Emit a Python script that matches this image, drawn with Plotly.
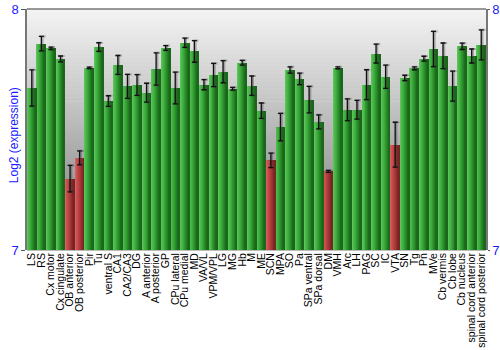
import plotly.graph_objects as go

# Brain regions and log2 expression (mean and error)
regions = [
    "LS", "RS", "Cx motor", "Cx cingulate", "OB anterior", "OB posterior", "Pir", "Tu",
    "ventral S", "CA1", "CA2/CA3", "DG", "A anterior", "A posterior", "GP", "CPu lateral",
    "CPu medial", "MD", "VA/VL", "VPM/VPL", "LG", "MG", "Hb", "M", "ME", "SCN", "MPA",
    "SO", "Pa", "SPa ventral", "SPa dorsal", "DM", "VMH", "Arc", "LH", "PAG", "SC", "IC",
    "VTA", "SN", "Tg", "Pn", "MVe", "Cb vermis", "Cb lobe", "Cb nucleus",
    "spinal cord anterior", "spinal cord posterior",
]
expression = [
    7.672, 7.856, 7.837, 7.793, 7.296, 7.382, 7.756, 7.842,
    7.618, 7.768, 7.679, 7.685, 7.653, 7.751, 7.838, 7.672,
    7.860, 7.824, 7.686, 7.726, 7.740, 7.669, 7.777, 7.682, 7.578, 7.372, 7.510,
    7.747, 7.710, 7.624, 7.532, 7.326, 7.756, 7.582, 7.582, 7.686, 7.815, 7.719,
    7.437, 7.714, 7.754, 7.794, 7.834, 7.806, 7.680, 7.845,
    7.805, 7.851,
]
error = [
    0.075, 0.030, 0.005, 0.012, 0.055, 0.029, 0.003, 0.018,
    0.022, 0.039, 0.050, 0.043, 0.039, 0.067, 0.010, 0.066,
    0.019, 0.045, 0.021, 0.048, 0.046, 0.006, 0.010, 0.040, 0.032, 0.030, 0.057,
    0.013, 0.024, 0.055, 0.029, 0.004, 0.004, 0.045, 0.039, 0.062, 0.039, 0.048,
    0.093, 0.011, 0.006, 0.010, 0.073, 0.053, 0.062, 0.013,
    0.029, 0.062,
]
low_regions = ["OB anterior", "OB posterior", "SCN", "DM", "VTA"]

y_range = [7, 8]
y_ticks = [7, 8]
y_title = "Log2 (expression)"

# Horizontal shading profile of a bar, left to right (cylinder look)
green_profile = ["#5cc25c", "#4cbb4c", "#43b443", "#3aa83a", "#319b31",
                 "#2a8e2a", "#237f23", "#1c701c", "#1a661a"]
red_profile = ["#d26262", "#cc5252", "#c64a4a", "#bc4242", "#b03c3c",
               "#a23535", "#922f2f", "#832828", "#772424"]

bar_w = 0.92
n_strips = len(green_profile)
strip_w = bar_w / n_strips
x_pos = list(range(len(regions)))

fig = go.Figure()
for k in range(n_strips):
    colors = [red_profile[k] if r in low_regions else green_profile[k] for r in regions]
    fig.add_trace(go.Bar(
        x=x_pos, y=[v - y_range[0] for v in expression], base=y_range[0],
        width=strip_w, offset=-bar_w / 2 + k * strip_w,
        marker=dict(color=colors, line=dict(width=0)),
        hoverinfo="skip", showlegend=False,
    ))

# soft shadow behind the error bars, then the error bars themselves
fig.add_trace(go.Scatter(
    x=[x + 0.12 for x in x_pos], y=expression, mode="markers",
    marker=dict(size=0.1, color="rgba(0,0,0,0)"),
    error_y=dict(type="data", array=error, color="rgba(60,60,60,0.35)",
                 thickness=2.2, width=3),
    showlegend=False, hoverinfo="skip",
))
fig.add_trace(go.Scatter(
    x=x_pos, y=expression, mode="markers",
    marker=dict(size=0.1, color="rgba(0,0,0,0)"),
    error_y=dict(type="data", array=error, color="#111111", thickness=1.3, width=2.5),
    showlegend=False, hoverinfo="skip",
))
# carries the right-hand axis
fig.add_trace(go.Scatter(x=[0], y=[7.5], yaxis="y2", mode="markers",
                         marker=dict(size=0.1, color="rgba(0,0,0,0)"),
                         showlegend=False, hoverinfo="skip"))

# vertical background gradient
shapes = []
n_bands = 60
top_c, bot_c = (243, 243, 243), (122, 122, 122)
for i in range(n_bands):
    t = i / (n_bands - 1)
    c = tuple(int(round(top_c[j] + (bot_c[j] - top_c[j]) * t)) for j in range(3))
    shapes.append(dict(type="rect", xref="paper", yref="paper",
                       x0=0, x1=1, y1=1 - i / n_bands, y0=1 - (i + 1) / n_bands - 0.002,
                       fillcolor="rgb(%d,%d,%d)" % c, line=dict(width=0), layer="below"))
shapes.append(dict(type="line", xref="paper", yref="paper", x0=0, x1=1, y0=1, y1=1,
                   line=dict(color="#777777", width=1.5)))

blue = "#1a1aff"
fig.update_layout(
    width=500, height=350,
    margin=dict(l=27, r=14, t=9, b=100),
    paper_bgcolor="white", plot_bgcolor="white",
    barmode="overlay", bargap=0,
    font=dict(family="Liberation Sans, Arial, sans-serif"),
    shapes=shapes,
    annotations=[dict(text=y_title, xref="paper", yref="paper", x=-0.029, y=0.475,
                      xanchor="center", yanchor="middle", textangle=-90, showarrow=False,
                      font=dict(size=12, color=blue))],
    xaxis=dict(
        tickmode="array", tickvals=x_pos, ticktext=regions, tickangle=-90,
        range=[-0.5, len(regions) - 0.5], showgrid=False, showline=False,
        zeroline=False, ticks="", tickfont=dict(size=10.5, color="black"),
        automargin=False,
    ),
    yaxis=dict(
        range=y_range, tickvals=y_ticks, showgrid=False, zeroline=False,
        showline=True, linecolor="#777777", linewidth=1.5,
        ticks="outside", ticklen=4, tickcolor="#555555",
        tickfont=dict(size=13, color=blue), automargin=False,
    ),
    yaxis2=dict(
        range=y_range, tickvals=y_ticks, overlaying="y", side="right",
        showgrid=False, zeroline=False, showline=True, linecolor="#777777",
        linewidth=1.5, ticks="outside", ticklen=2, tickcolor="#555555",
        tickfont=dict(size=13, color=blue), automargin=False,
    ),
)

fig.write_html("out.html")
